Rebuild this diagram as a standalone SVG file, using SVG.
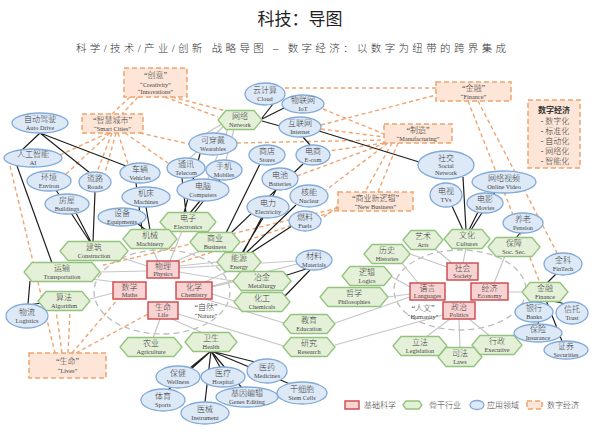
<svg xmlns="http://www.w3.org/2000/svg" width="600" height="433" viewBox="0 0 600 433">
<style>
.zh{font-family:"Liberation Serif","Noto Sans CJK SC",serif;font-size:8px;font-weight:300;fill:#3a3a3a;text-anchor:middle}
.en{font-family:"Liberation Serif","Noto Sans CJK SC",serif;font-size:6.3px;fill:#444;text-anchor:middle}
.sci rect{fill:#f9d2d2;stroke:#c9474a;stroke-width:1.4}
.ind polygon{fill:#e4f0d8;stroke:#93c47d;stroke-width:1.3}
.app ellipse{fill:#dde9f7;stroke:#82aad8;stroke-width:1.3}
.dig rect{fill:#fde6d8;stroke:#f0a46e;stroke-width:1.5;stroke-dasharray:5 3}
.blk{stroke:#1e1e1e;stroke-width:1.2;fill:none}
.gry{stroke:#c6c6c6;stroke-width:1.2;fill:none}
.org{stroke:#f0a46e;stroke-width:1.4;stroke-dasharray:4 3;fill:none}
.ring{stroke:#bdbdbd;stroke-width:1.3;stroke-dasharray:6 4;fill:none}
</style>
<rect width="600" height="433" fill="#ffffff"/>
<text x="300" y="25" style="font-family:'Noto Sans CJK SC',serif;font-size:17px;fill:#222;text-anchor:middle">科技：导图</text>
<text x="291" y="52" textLength="430" lengthAdjust="spacing" style="font-family:'Liberation Serif','Noto Sans CJK SC',serif;font-size:10.5px;font-weight:300;fill:#333;text-anchor:middle">科学/技术/产业/创新  战略导图 – 数字经济：以数字为纽带的跨界集成</text>

<g id="rings">
<ellipse class="ring" cx="162" cy="292" rx="68" ry="42"/>
<ellipse class="ring" cx="460" cy="290" rx="66" ry="40"/>
</g>

<g id="connectors">
<g class="gry">
<path d="M120 257L147 266M100 272L147 271M152 248L158 261M182 231L170 261M200 251L176 261M179 266L217 262M179 272L233 281M179 268L296 261M115 282L92 279M113 293L90 299M205 282L228 271M212 287L233 282M212 294L234 301M212 286L297 264M160 319L153 338M172 319L203 333M205 299L284 323M178 314L284 346"/>
<path d="M402 263L418 283M392 277L410 287M388 297L410 294M435 249L452 263M410 254L447 267M466 248L463 263M505 256L494 283M508 292L522 292M450 319L426 337M459 319L460 348M469 319L490 336M335 323L410 297M335 345L443 315"/>
<path d="M222 124L205 134M224 126L190 158M234 129L226 160M228 129L208 179"/>
</g>
<g class="org">
<path d="M130 97L112 114M138 97L122 114M165 97L218 117M172 97L226 111M285 88L436 88M321 125L436 95M323 109L384 134M321 129L384 137M237 143L384 140M384 143L329 151M386 143L297 176M388 143L326 190M392 143L365 192M398 143L378 192M468 101L540 283M478 101L557 253M338 206L320 220M338 210L179 263M338 208L100 266"/>
<path d="M108 133L60 155M110 133L66 174M112 133L97 172M116 133L105 173M118 133L128 164M125 133L168 163M140 133L189 144M10 166L55 353M62 353L56 310M68 353L70 310M72 353L118 299M76 353L148 314"/>
</g>
<g class="blk">
<path d="M40 133L22 150M40 133L90 173M40 133L126 166M17 166L52 263M56 190L90 242M76 213L91 242M95 192L93 242M138 224L146 230M146 207L150 230M136 183L142 230M28 305L42 303M28 304L30 281"/>
<path d="M200 154L184 213M182 178L186 213M220 180L194 213M200 201L190 213M273 104L262 118M284 108L262 119M280 126L262 121M319 131L419 162M303 137L310 145M260 164L226 233M303 164L231 233M276 190L243 253M263 218L242 253M296 205L246 253M292 226L249 254M306 269L284 276M310 270L284 297"/>
<path d="M463 177L466 230M452 206L463 230M478 212L469 230M495 192L471 230M520 233L516 238M556 274L547 283M542 300L536 304M548 300L566 304M542 300L538 324M546 300L562 341"/>
<path d="M211 351L190 368M211 351L168 390M211 351L205 402M211 351L220 367M211 351L242 388M211 351L255 362M211 351L290 384"/>
</g>
</g>

<g id="digital">
<g id="d-creativity" class="dig"><rect x="124" y="68" width="63" height="29"/><text class="zh" x="155.5" y="78">“创意”</text><text class="en" x="155.5" y="86.5">“Creativity”</text><text class="en" x="155.5" y="94">“Innovations”</text></g>
<g id="d-smart" class="dig"><rect x="82" y="114" width="61" height="19"/><text class="zh" x="112.5" y="123">“智慧城市”</text><text class="en" x="112.5" y="130.5">“Smart Cities”</text></g>
<g id="d-finance" class="dig"><rect x="436" y="82" width="75" height="19"/><text class="zh" x="473.5" y="91">“金融”</text><text class="en" x="473.5" y="98.5">“Finance”</text></g>
<g id="d-manufacturing" class="dig"><rect x="384" y="124" width="68" height="19"/><text class="zh" x="418" y="133">“制造”</text><text class="en" x="418" y="140.5">“Manufacturing”</text></g>
<g id="d-newbiz" class="dig"><rect x="338" y="192" width="75" height="19"/><text class="zh" x="375.5" y="201">“商业新逻辑”</text><text class="en" x="375.5" y="208.5">“New Business”</text></g>
<g id="d-lives" class="dig"><rect x="29" y="353" width="77" height="25"/><text class="zh" x="67.5" y="364">“生命”</text><text class="en" x="67.5" y="372.5">“Lives”</text></g>
<g id="d-economy" class="dig"><rect x="528" y="100" width="52" height="68"/>
<text x="554" y="113" style="font-family:'Noto Sans CJK SC',serif;font-size:8px;font-weight:bold;fill:#333;text-anchor:middle">数字经济</text>
<text class="zh" x="555" y="124">- 数字化</text><text class="zh" x="555" y="134">- 标准化</text><text class="zh" x="555" y="144">- 自动化</text><text class="zh" x="555" y="154">- 网络化</text><text class="zh" x="555" y="164">- 智能化</text></g>
</g>

<g id="industries" class="ind">
<g id="i-network"><polygon points="218,120 226,110.5 254,110.5 262,120 254,129.5 226,129.5"/><text class="zh" x="240" y="119">网络</text><text class="en" x="240" y="126.5">Network</text></g>
<g id="i-electronics"><polygon points="160,222 168,212.5 208,212.5 216,222 208,231.5 168,231.5"/><text class="zh" x="188" y="221">电子</text><text class="en" x="188" y="228.5">Electronics</text></g>
<g id="i-machinery"><polygon points="123,239 131,229.5 169,229.5 177,239 169,248.5 131,248.5"/><text class="zh" x="150" y="238">机械</text><text class="en" x="150" y="245.5">Machinery</text></g>
<g id="i-business"><polygon points="190,242 198,232.5 232,232.5 240,242 232,251.5 198,251.5"/><text class="zh" x="215" y="241">商业</text><text class="en" x="215" y="248.5">Business</text></g>
<g id="i-energy"><polygon points="217,262 225,252.5 253,252.5 261,262 253,271.5 225,271.5"/><text class="zh" x="239" y="261">能源</text><text class="en" x="239" y="268.5">Energy</text></g>
<g id="i-metallurgy"><polygon points="233,281 241,271.5 283,271.5 291,281 283,290.5 241,290.5"/><text class="zh" x="262" y="280">冶金</text><text class="en" x="262" y="287.5">Metallurgy</text></g>
<g id="i-chemicals"><polygon points="234,302 242,292.5 282,292.5 290,302 282,311.5 242,311.5"/><text class="zh" x="262" y="301">化工</text><text class="en" x="262" y="308.5">Chemicals</text></g>
<g id="i-construction"><polygon points="60,251 68,241.5 120,241.5 128,251 120,260.5 68,260.5"/><text class="zh" x="94" y="250">建筑</text><text class="en" x="94" y="257.5">Construction</text></g>
<g id="i-transportation"><polygon points="24,272 32,262.5 92,262.5 100,272 92,281.5 32,281.5"/><text class="zh" x="62" y="271">运输</text><text class="en" x="62" y="278.5">Transportation</text></g>
<g id="i-algorithm"><polygon points="38,301 46,291.5 82,291.5 90,301 82,310.5 46,310.5"/><text class="zh" x="64" y="300">算法</text><text class="en" x="64" y="307.5">Algorithm</text></g>
<g id="i-agriculture"><polygon points="120,347 128,337.5 174,337.5 182,347 174,356.5 128,356.5"/><text class="zh" x="151" y="346">农业</text><text class="en" x="151" y="353.5">Agriculture</text></g>
<g id="i-health"><polygon points="185,342 193,332.5 229,332.5 237,342 229,351.5 193,351.5"/><text class="zh" x="211" y="341">卫生</text><text class="en" x="211" y="348.5">Health</text></g>
<g id="i-education"><polygon points="283,324 291,314.5 327,314.5 335,324 327,333.5 291,333.5"/><text class="zh" x="309" y="323">教育</text><text class="en" x="309" y="330.5">Education</text></g>
<g id="i-research"><polygon points="283,347 291,337.5 327,337.5 335,347 327,356.5 291,356.5"/><text class="zh" x="309" y="346">研究</text><text class="en" x="309" y="353.5">Research</text></g>
<g id="i-arts"><polygon points="403,240 411,230.5 435,230.5 443,240 435,249.5 411,249.5"/><text class="zh" x="423" y="239">艺术</text><text class="en" x="423" y="246.5">Arts</text></g>
<g id="i-histories"><polygon points="364,254 372,244.5 402,244.5 410,254 402,263.5 372,263.5"/><text class="zh" x="387" y="253">历史</text><text class="en" x="387" y="260.5">Histories</text></g>
<g id="i-logics"><polygon points="342,276 350,266.5 384,266.5 392,276 384,285.5 350,285.5"/><text class="zh" x="367" y="275">逻辑</text><text class="en" x="367" y="282.5">Logics</text></g>
<g id="i-philosophies"><polygon points="320,297 328,287.5 380,287.5 388,297 380,306.5 328,306.5"/><text class="zh" x="354" y="296">哲学</text><text class="en" x="354" y="303.5">Philosophies</text></g>
<g id="i-cultures"><polygon points="444,239 452,229.5 482,229.5 490,239 482,248.5 452,248.5"/><text class="zh" x="467" y="238">文化</text><text class="en" x="467" y="245.5">Cultures</text></g>
<g id="i-socsec"><polygon points="488,247 496,237.5 532,237.5 540,247 532,256.5 496,256.5"/><text class="zh" x="514" y="246">保障</text><text class="en" x="514" y="253.5">Soc. Sec.</text></g>
<g id="i-finance"><polygon points="522,292 530,282.5 560,282.5 568,292 560,301.5 530,301.5"/><text class="zh" x="545" y="291">金融</text><text class="en" x="545" y="298.5">Finance</text></g>
<g id="i-legislation"><polygon points="393,346 401,336.5 439,336.5 447,346 439,355.5 401,355.5"/><text class="zh" x="420" y="345">立法</text><text class="en" x="420" y="352.5">Legislation</text></g>
<g id="i-laws"><polygon points="438,357 446,347.5 474,347.5 482,357 474,366.5 446,366.5"/><text class="zh" x="460" y="356">司法</text><text class="en" x="460" y="363.5">Laws</text></g>
<g id="i-executive"><polygon points="472,345 480,335.5 514,335.5 522,345 514,354.5 480,354.5"/><text class="zh" x="497" y="344">行政</text><text class="en" x="497" y="351.5">Executive</text></g>
</g>

<g id="sciences" class="sci">
<g id="s-physics"><rect x="147" y="261" width="32" height="17"/><text class="zh" x="163" y="268.5">物理</text><text class="en" x="163" y="276">Physics</text></g>
<g id="s-chemistry"><rect x="176" y="282" width="36" height="17"/><text class="zh" x="194" y="289.5">化学</text><text class="en" x="194" y="297">Chemistry</text></g>
<g id="s-maths"><rect x="113" y="282" width="33" height="17"/><text class="zh" x="129.5" y="289.5">数学</text><text class="en" x="129.5" y="297">Maths</text></g>
<g id="s-life"><rect x="148" y="302" width="30" height="17"/><text class="zh" x="163" y="309.5">生命</text><text class="en" x="163" y="317">Life</text></g>
<g id="s-languages"><rect x="410" y="283" width="35" height="17"/><text class="zh" x="427.5" y="290.5">语言</text><text class="en" x="427.5" y="298">Languages</text></g>
<g id="s-society"><rect x="447" y="263" width="31" height="17"/><text class="zh" x="462.5" y="270.5">社会</text><text class="en" x="462.5" y="278">Society</text></g>
<g id="s-economy"><rect x="471" y="283" width="37" height="17"/><text class="zh" x="489.5" y="290.5">经济</text><text class="en" x="489.5" y="298">Economy</text></g>
<g id="s-politics"><rect x="443" y="302" width="32" height="17"/><text class="zh" x="459" y="309.5">政治</text><text class="en" x="459" y="317">Politics</text></g>
</g>
<g id="domain-labels">
<text class="zh" x="206" y="310">“自然”</text><text class="en" x="206" y="318">“Nature”</text>
<text class="zh" x="423" y="311">“人文”</text><text class="en" x="423" y="319">“Humanity”</text>
</g>

<g id="applications" class="app">
<g id="a-autodrive"><ellipse cx="40" cy="123" rx="28" ry="10"/><text class="zh" x="40" y="122">自动驾驶</text><text class="en" x="40" y="129.5">Auto Drive</text></g>
<g id="a-ai"><ellipse cx="33" cy="158" rx="29" ry="9"/><text class="zh" x="33" y="157">人工智能</text><text class="en" x="33" y="164.5">AI</text></g>
<g id="a-environ"><ellipse cx="49" cy="181" rx="22" ry="10"/><text class="zh" x="49" y="180">环境</text><text class="en" x="49" y="187.5">Environ</text></g>
<g id="a-roads"><ellipse cx="95" cy="182" rx="16" ry="10"/><text class="zh" x="95" y="181">道路</text><text class="en" x="95" y="188.5">Roads</text></g>
<g id="a-buildings"><ellipse cx="67" cy="204" rx="22" ry="10"/><text class="zh" x="67" y="203">房屋</text><text class="en" x="67" y="210.5">Buildings</text></g>
<g id="a-equipments"><ellipse cx="122" cy="217" rx="24" ry="9"/><text class="zh" x="122" y="216">设备</text><text class="en" x="122" y="223.5">Equipments</text></g>
<g id="a-machines"><ellipse cx="146" cy="197" rx="24" ry="10"/><text class="zh" x="146" y="196">机床</text><text class="en" x="146" y="203.5">Machines</text></g>
<g id="a-vehicles"><ellipse cx="140" cy="173" rx="20" ry="10"/><text class="zh" x="140" y="172">车辆</text><text class="en" x="140" y="179.5">Vehicles</text></g>
<g id="a-telecom"><ellipse cx="186" cy="168" rx="19" ry="10"/><text class="zh" x="186" y="167">通讯</text><text class="en" x="186" y="174.5">Telecom</text></g>
<g id="a-wearables"><ellipse cx="213" cy="144" rx="24" ry="11"/><text class="zh" x="213" y="143">可穿戴</text><text class="en" x="213" y="150.5">Wearables</text></g>
<g id="a-mobiles"><ellipse cx="224" cy="170" rx="18" ry="10"/><text class="zh" x="224" y="169">手机</text><text class="en" x="224" y="176.5">Mobiles</text></g>
<g id="a-computers"><ellipse cx="203" cy="190" rx="26" ry="11"/><text class="zh" x="203" y="189">电脑</text><text class="en" x="203" y="196.5">Computers</text></g>
<g id="a-cloud"><ellipse cx="265" cy="94" rx="20" ry="11"/><text class="zh" x="265" y="93">云计算</text><text class="en" x="265" y="100.5">Cloud</text></g>
<g id="a-iot"><ellipse cx="303" cy="104" rx="21" ry="9"/><text class="zh" x="303" y="103">物联网</text><text class="en" x="303" y="110.5">IoT</text></g>
<g id="a-internet"><ellipse cx="300" cy="127" rx="21" ry="10"/><text class="zh" x="300" y="126">互联网</text><text class="en" x="300" y="133.5">Internet</text></g>
<g id="a-stores"><ellipse cx="267" cy="155" rx="18" ry="10"/><text class="zh" x="267" y="154">商店</text><text class="en" x="267" y="161.5">Stores</text></g>
<g id="a-ecom"><ellipse cx="313" cy="155" rx="17" ry="10"/><text class="zh" x="313" y="154">电商</text><text class="en" x="313" y="161.5">E-com</text></g>
<g id="a-batteries"><ellipse cx="280" cy="179" rx="18" ry="11"/><text class="zh" x="280" y="178">电池</text><text class="en" x="280" y="185.5">Batteries</text></g>
<g id="a-electricity"><ellipse cx="268" cy="207" rx="21" ry="11"/><text class="zh" x="268" y="206">电力</text><text class="en" x="268" y="213.5">Electricity</text></g>
<g id="a-nuclear"><ellipse cx="309" cy="196" rx="19" ry="11"/><text class="zh" x="309" y="195">核能</text><text class="en" x="309" y="202.5">Nuclear</text></g>
<g id="a-fuels"><ellipse cx="305" cy="221" rx="16" ry="10"/><text class="zh" x="305" y="220">燃料</text><text class="en" x="305" y="227.5">Fuels</text></g>
<g id="a-materials"><ellipse cx="314" cy="260" rx="18" ry="10"/><text class="zh" x="314" y="259">材料</text><text class="en" x="314" y="266.5">Materials</text></g>
<g id="a-social"><ellipse cx="446" cy="165" rx="28" ry="14"/><text class="zh" x="446" y="161">社交</text><text class="en" x="446" y="168">Social</text><text class="en" x="446" y="175">Network</text></g>
<g id="a-onlinevideo"><ellipse cx="504" cy="182" rx="32" ry="11"/><text class="zh" x="504" y="181">网络视频</text><text class="en" x="504" y="188.5">Online Video</text></g>
<g id="a-tvs"><ellipse cx="446" cy="195" rx="16" ry="12"/><text class="zh" x="446" y="194">电视</text><text class="en" x="446" y="201.5">TVs</text></g>
<g id="a-movies"><ellipse cx="485" cy="203" rx="18" ry="10"/><text class="zh" x="485" y="202">电影</text><text class="en" x="485" y="209.5">Movies</text></g>
<g id="a-pension"><ellipse cx="523" cy="223" rx="20" ry="10"/><text class="zh" x="523" y="222">养老</text><text class="en" x="523" y="229.5">Pension</text></g>
<g id="a-fintech"><ellipse cx="563" cy="264" rx="19" ry="11"/><text class="zh" x="563" y="263">金科</text><text class="en" x="563" y="270.5">FinTech</text></g>
<g id="a-banks"><ellipse cx="534" cy="312" rx="19" ry="10"/><text class="zh" x="534" y="311">银行</text><text class="en" x="534" y="318.5">Banks</text></g>
<g id="a-trust"><ellipse cx="572" cy="313" rx="16" ry="11"/><text class="zh" x="572" y="312">信托</text><text class="en" x="572" y="319.5">Trust</text></g>
<g id="a-insurance"><ellipse cx="538" cy="333" rx="24" ry="9"/><text class="zh" x="538" y="332">保险</text><text class="en" x="538" y="339.5">Insurance</text></g>
<g id="a-securities"><ellipse cx="566" cy="350" rx="22" ry="9"/><text class="zh" x="566" y="349">证券</text><text class="en" x="566" y="356.5">Securities</text></g>
<g id="a-logistics"><ellipse cx="27" cy="316" rx="21" ry="12"/><text class="zh" x="27" y="315">物流</text><text class="en" x="27" y="322.5">Logistics</text></g>
<g id="a-wellness"><ellipse cx="178" cy="377" rx="22" ry="11"/><text class="zh" x="178" y="376">保健</text><text class="en" x="178" y="383.5">Wellness</text></g>
<g id="a-sports"><ellipse cx="163" cy="400" rx="22" ry="11"/><text class="zh" x="163" y="399">体育</text><text class="en" x="163" y="406.5">Sports</text></g>
<g id="a-instrument"><ellipse cx="205" cy="413" rx="24" ry="11"/><text class="zh" x="205" y="412">医械</text><text class="en" x="205" y="419.5">Instrument</text></g>
<g id="a-hospital"><ellipse cx="223" cy="377" rx="22" ry="10"/><text class="zh" x="223" y="376">医疗</text><text class="en" x="223" y="383.5">Hospital</text></g>
<g id="a-genes"><ellipse cx="247" cy="397" rx="31" ry="10"/><text class="zh" x="247" y="396">基因编辑</text><text class="en" x="247" y="403.5">Genes Editing</text></g>
<g id="a-medicines"><ellipse cx="267" cy="371" rx="20" ry="12"/><text class="zh" x="267" y="370">医药</text><text class="en" x="267" y="377.5">Medicines</text></g>
<g id="a-stemcells"><ellipse cx="302" cy="393" rx="25" ry="11"/><text class="zh" x="302" y="392">干细胞</text><text class="en" x="302" y="399.5">Stem Cells</text></g>
</g>

<g id="legend">
<g class="sci"><rect x="345" y="401" width="14" height="8"/></g>
<text class="zh" x="380" y="408">基础科学</text>
<g class="ind"><polygon points="403,405 406,401 419,401 422,405 419,409 406,409"/></g>
<text class="zh" x="445" y="408">骨干行业</text>
<g class="app"><ellipse cx="477" cy="405" rx="7" ry="4.5"/></g>
<text class="zh" x="503" y="408">应用领域</text>
<g class="dig"><rect x="527" y="401" width="15" height="8"/></g>
<text class="zh" x="563" y="408">数字经济</text>
</g>
</svg>
